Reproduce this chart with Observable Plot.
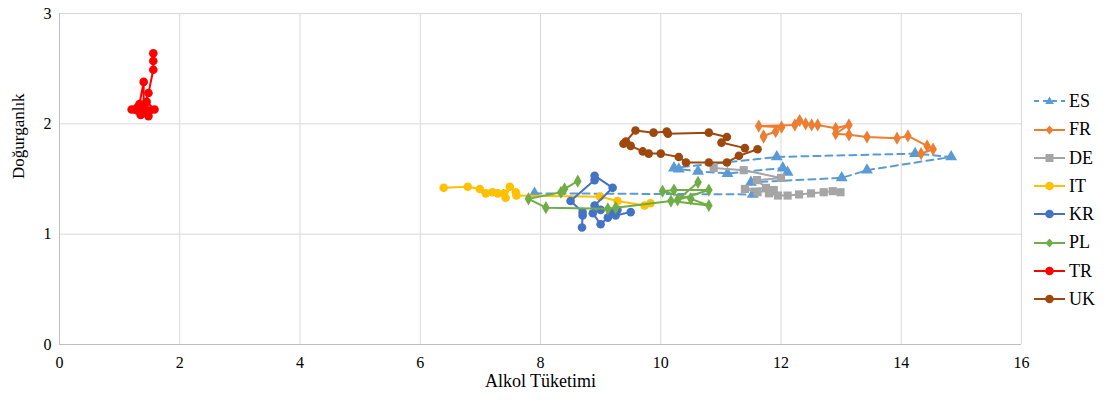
<!DOCTYPE html>
<html>
<head>
<meta charset="utf-8">
<script src="https://cdn.jsdelivr.net/npm/d3@7"></script>
<script src="https://cdn.jsdelivr.net/npm/@observablehq/plot@0.6"></script>
<style>
  html, body { margin: 0; padding: 0; background: #fff; }
  #wrap { position: relative; width: 1108px; height: 402px; font-family: "Liberation Serif", "Times New Roman", serif; }
  #legend { position: absolute; left: 1034px; top: 0; }
  .item { position: absolute; left: 0; height: 20px; display: flex; align-items: center; white-space: nowrap; font-size: 18px; color: #000; }
  .item svg { margin-right: 4px; }
</style>
</head>
<body>
<div id="wrap"><div id="chart"></div><div id="legend"></div></div>
<script>
// Series names, colours, symbols
const seriesNames = ["ES", "FR", "DE", "IT", "KR", "PL", "TR", "UK"];
const seriesColors = ["#5B9BD5", "#ED7D31", "#A5A5A5", "#FFC000", "#4472C4", "#70AD47", "#FF0000", "#9E480E"];
const seriesSymbols = ["triangle", "diamond", "square", "circle", "circle", "diamond", "circle", "circle"];

// [alcohol consumption, fertility] per series
const ES = [[7.90,1.37],[11.53,1.36],[11.50,1.47],[13.01,1.51],[13.43,1.58],[14.83,1.70],[14.23,1.73],[11.93,1.70],[10.22,1.60],[10.30,1.59],[10.62,1.57],[11.11,1.55],[12.03,1.60],[12.11,1.56]];
const FR = [[11.71,1.88],[11.71,1.89],[11.91,1.93],[12.01,1.97],[11.63,1.98],[12.23,1.99],[12.31,2.03],[12.41,2.00],[12.51,1.99],[12.61,1.99],[12.91,1.96],[13.13,1.99],[12.91,1.91],[13.13,1.90],[13.43,1.88],[13.93,1.87],[14.11,1.89],[14.43,1.80],[14.53,1.77],[14.33,1.73]];
const DE = [[10.88,1.60],[11.38,1.58],[12.00,1.51],[11.60,1.49],[11.75,1.42],[11.40,1.41],[11.61,1.38],[11.88,1.40],[11.80,1.37],[11.95,1.35],[12.11,1.35],[12.30,1.36],[12.50,1.37],[12.71,1.38],[12.86,1.39],[12.99,1.38]];
const IT = [[6.39,1.42],[6.79,1.43],[6.99,1.41],[7.09,1.37],[7.20,1.38],[7.29,1.37],[7.39,1.37],[7.42,1.33],[7.49,1.43],[7.59,1.38],[7.60,1.35],[8.99,1.34],[9.28,1.30],[9.73,1.26],[9.83,1.28]];
const KR = [[8.69,1.06],[8.70,1.17],[8.70,1.20],[8.50,1.30],[8.90,1.49],[8.90,1.53],[9.20,1.42],[8.90,1.26],[9.00,1.22],[8.87,1.19],[9.00,1.09],[9.12,1.15],[9.17,1.20],[9.28,1.22],[9.25,1.17],[9.50,1.20]];
const PL = [[8.62,1.48],[8.40,1.41],[8.34,1.38],[7.80,1.32],[8.09,1.24],[9.12,1.23],[9.25,1.24],[10.17,1.30],[10.80,1.26],[10.50,1.32],[10.03,1.39],[10.22,1.40],[10.80,1.40],[10.28,1.31],[10.62,1.47]];
const TR = [[1.56,2.64],[1.56,2.57],[1.56,2.49],[1.48,2.28],[1.42,2.18],[1.38,2.12],[1.30,2.15],[1.25,2.13],[1.20,2.13],[1.33,2.18],[1.40,2.38],[1.40,2.15],[1.45,2.10],[1.48,2.07],[1.50,2.12],[1.58,2.13],[1.45,2.20],[1.38,2.10],[1.30,2.12],[1.35,2.08]];
const UK = [[11.40,1.78],[11.01,1.83],[11.10,1.88],[10.80,1.92],[10.12,1.91],[10.10,1.93],[9.88,1.92],[9.58,1.94],[9.42,1.84],[9.38,1.82],[9.50,1.80],[9.70,1.75],[9.80,1.73],[10.00,1.73],[10.30,1.70],[10.42,1.65],[10.80,1.65],[11.10,1.65],[11.30,1.71],[11.61,1.77]];

const xTicks = [0, 2, 4, 6, 8, 10, 12, 14, 16];
const yTicks = [0, 1, 2, 3];
const xLabel = "Alkol Tüketimi";
const yLabel = "Doğurganlık";

const seriesData = [ES, FR, DE, IT, KR, PL, TR, UK];
const rows = [];
seriesNames.forEach((name, i) => {
  seriesData[i].forEach(([x, y], k) => rows.push({series: name, order: k, x, y}));
});

const marks = [
  Plot.gridX(xTicks, {stroke: "#d9d9d9", strokeOpacity: 1, strokeWidth: 1}),
  Plot.gridY(yTicks, {stroke: "#d9d9d9", strokeOpacity: 1, strokeWidth: 1}),
  Plot.ruleY([0], {stroke: "#bfbfbf"}),
  Plot.ruleX([0], {stroke: "#bfbfbf"})
];
const symbolR = {circle: 4.3, square: 4.6, diamond: 4.0, triangle: 4.4};
seriesNames.forEach((name, i) => {
  const d = rows.filter(r => r.series === name);
  marks.push(Plot.line(d, {
    x: "x", y: "y", stroke: seriesColors[i], strokeWidth: 2,
    strokeDasharray: name === "ES" ? "7,5" : null, curve: "linear"
  }));
  const sym = seriesSymbols[i];
  marks.push(Plot.dot(d, {
    x: "x", y: "y", fill: seriesColors[i], stroke: "none", symbol: sym, r: symbolR[sym]
  }));
});
marks.push(
  Plot.axisX(xTicks, {tickSize: 0, tickPadding: 12, fontSize: 16, fill: "#000", label: null, tickFormat: d3.format("d")}),
  Plot.axisY(yTicks, {tickSize: 0, tickPadding: 8, fontSize: 16, fill: "#000", label: null, tickFormat: d3.format("d")}),
  Plot.text([xLabel], {frameAnchor: "bottom", dy: 42, fontSize: 18, fill: "#000"}),
  Plot.text([yLabel], {frameAnchor: "left", dx: -41, rotate: -90, fontSize: 17, fill: "#000"})
);

const chart = Plot.plot({
  width: 1108,
  height: 402,
  marginLeft: 59,
  marginRight: 87,
  marginTop: 13,
  marginBottom: 58,
  style: {fontFamily: "'Liberation Serif', 'Times New Roman', serif", background: "#fff", overflow: "visible"},
  x: {domain: [0, 16], label: null},
  y: {domain: [0, 3], label: null},
  marks
});
document.getElementById("chart").appendChild(chart);

// Legend
const legend = document.getElementById("legend");
const legendTops = [101, 129.5, 158, 186, 214, 242.5, 271, 299];
seriesNames.forEach((name, i) => {
  const item = document.createElement("div");
  item.className = "item";
  item.style.top = (legendTops[i] - 10) + "px";
  const c = seriesColors[i];
  let marker;
  const s = seriesSymbols[i];
  if (s === "circle") marker = `<circle cx="15.5" cy="10" r="4.3" fill="${c}"/>`;
  else if (s === "square") marker = `<rect x="11.5" y="6" width="8" height="8" fill="${c}"/>`;
  else if (s === "diamond") marker = `<path d="M15.5 5.5 L19.5 10 L15.5 14.5 L11.5 10 Z" fill="${c}"/>`;
  else marker = `<path d="M15.5 5.5 L19.8 13 L11.2 13 Z" fill="${c}"/>`;
  const dash = name === "ES" ? ` stroke-dasharray="5,4"` : "";
  item.innerHTML = `<svg width="31" height="20"><line x1="0" y1="10" x2="31" y2="10" stroke="${c}" stroke-width="2"${dash}/>${marker}</svg><span>${name}</span>`;
  legend.appendChild(item);
});
</script>
</body>
</html>
